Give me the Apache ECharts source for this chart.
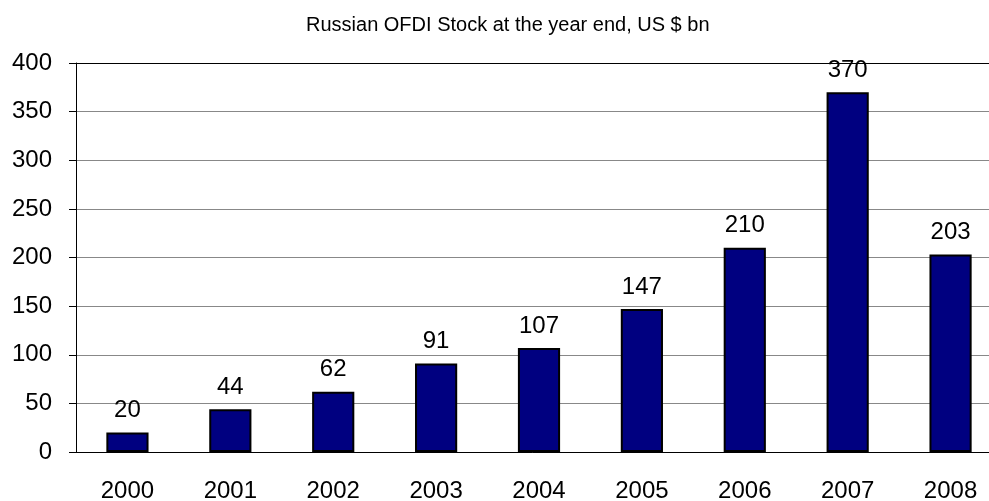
<!DOCTYPE html>
<html>
<head>
<meta charset="utf-8">
<script src="https://cdn.jsdelivr.net/npm/echarts@6/dist/echarts.min.js"></script>
<style>
  html, body { margin: 0; padding: 0; background: #fff; }
  #chart { width: 989px; height: 501px; }
</style>
</head>
<body>
<div id="chart"></div>
<script>
// data
var years = ['2000', '2001', '2002', '2003', '2004', '2005', '2006', '2007', '2008'];
var stock = [20, 44, 62, 91, 107, 147, 210, 370, 203];
var yTicks = [0, 50, 100, 150, 200, 250, 300, 350, 400];

var myChart = echarts.init(document.getElementById('chart'));
var option = {
  animation: false,
  backgroundColor: '#ffffff',
  textStyle: { fontFamily: 'Liberation Sans, Arial, sans-serif' },
  title: {
    text: 'Russian OFDI Stock at the year end, US $ bn',
    left: 301,
    top: 10,
    textStyle: { fontSize: 20, fontWeight: 'normal', color: '#000' }
  },
  grid: { left: 76, right: -13, top: 63, bottom: 49, outerBoundsMode: 'none', containLabel: false },
  xAxis: {
    type: 'category',
    data: years,
    axisLine: { lineStyle: { color: '#000', width: 1 } },
    axisTick: { show: false },
    axisLabel: { color: '#000', fontSize: 24, margin: 27 }
  },
  yAxis: {
    type: 'value',
    min: yTicks[0],
    max: yTicks[yTicks.length - 1],
    interval: 50,
    axisLine: { show: true, lineStyle: { color: '#000', width: 1 } },
    axisTick: { show: true, length: 7, lineStyle: { color: '#000' } },
    axisLabel: { color: '#000', fontSize: 24, margin: 24 },
    splitLine: {
      lineStyle: {
        color: ['#888', '#888', '#888', '#888', '#888', '#888', '#888', '#888', '#000'],
        width: 1
      }
    }
  },
  series: [
    {
      type: 'bar',
      data: stock,
      barWidth: '41%',
      itemStyle: { color: '#000080', borderColor: '#000', borderWidth: 2 },
      label: {
        show: true,
        position: 'top',
        distance: 10,
        color: '#000',
        fontSize: 24
      }
    }
  ]
};
myChart.setOption(option);
</script>
</body>
</html>
